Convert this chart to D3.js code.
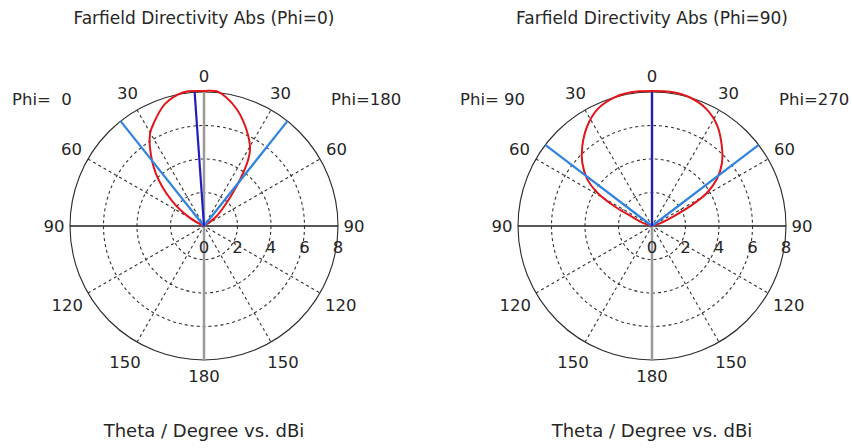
<!DOCTYPE html>
<html>
<head>
<meta charset="utf-8">
<script src="https://cdn.jsdelivr.net/npm/d3@7"></script>
<style>
  html, body { margin: 0; padding: 0; background: #fff; }
  svg { display: block; }
  text { font-family: "DejaVu Sans", Verdana, sans-serif; fill: #262626; }
</style>
</head>
<body>
<svg id="chart" width="852" height="448"></svg>
<script>
// ---------- data ----------
const radialTicks = [0, 2, 4, 6, 8];
const angleTicks = [0, 30, 60, 90, 120, 150, 180];
const titles = ["Farfield Directivity Abs (Phi=0)", "Farfield Directivity Abs (Phi=90)"];
const phiLeftLabels = ["Phi=  0", "Phi= 90"];
const phiRightLabels = ["Phi=180", "Phi=270"];
const axisTitle = "Theta / Degree vs. dBi";

// Phi=0 cut (negative theta = left half, "Phi= 0"; positive = right half, "Phi=180")
const phi0Theta = [-66, -60, -51.6, -42.5, -34.5, -30.2, -26.4, -17.7, -8.7, 0, 5.4, 10, 15.7, 20.5, 26.2, 31, 33.6, 36.4, 39.3, 44.3, 51.8, 58, 62];
const phi0Dir   = [0, 0.97, 2.47, 4.25, 5.7, 6.4, 6.8, 7.65, 8.08, 8.06, 8.08, 7.78, 7.24, 6.69, 5.99, 5.34, 4.78, 3.95, 3.08, 1.94, 0.97, 0.19, 0];
const phi0MainLobe = -4;
const phi0Width = [-38.5, 38.5];

// Phi=90 cut
const phi90Theta = [-78, -71.4, -64.9, -62.2, -58.7, -54.2, -47.8, -41.1, -32.9, -25.1, -16.5, -9, 0, 9, 16.5, 25, 33, 41, 48, 54, 59, 62.5, 65.5, 72, 78];
const phi90Dir   = [0, 0.5, 1.41, 2.56, 3.82, 4.76, 5.62, 6.33, 7.11, 7.69, 7.99, 8.08, 8.06, 8.08, 8.0, 7.7, 7.15, 6.35, 5.62, 4.8, 3.8, 2.6, 1.5, 0.5, 0];
const phi90MainLobe = 0;
const phi90Width = [-52.8, 52.8];

// ---------- layout ----------
const svg = d3.select("#chart");
const R = 134;
const cy = 226;
const panels = [
  {cx: 204, title: titles[0], left: phiLeftLabels[0], right: phiRightLabels[0],
   theta: phi0Theta, dir: phi0Dir, main: phi0MainLobe, width: phi0Width},
  {cx: 652, title: titles[1], left: phiLeftLabels[1], right: phiRightLabels[1],
   theta: phi90Theta, dir: phi90Dir, main: phi90MainLobe, width: phi90Width}
];

const rScale = d3.scaleLinear().domain([0, 8]).range([0, R]);
const aScale = d3.scaleLinear().domain([0, 180]).range([0, Math.PI]);

function labelDist(a) {
  if (a % 90 === 0) return R + 16;
  return a < 90 ? R + 19 : R + 24;
}

panels.forEach(p => {
  const g = svg.append("g").attr("transform", `translate(${p.cx},${cy})`);

  // dashed circles
  g.selectAll("circle.grid").data(radialTicks.filter(v => v > 0 && v < 8)).join("circle")
    .attr("r", d => rScale(d))
    .attr("fill", "none").attr("stroke", "#333").attr("stroke-width", 1.1)
    .attr("stroke-dasharray", "3,3");

  // dashed spokes
  const spokes = [30, 60, 120, 150];
  g.selectAll("line.spoke").data(spokes).join("line")
    .attr("x1", d => -R * Math.sin(aScale(d))).attr("y1", d => R * Math.cos(aScale(d)))
    .attr("x2", d => R * Math.sin(aScale(d))).attr("y2", d => -R * Math.cos(aScale(d)))
    .attr("stroke", "#333").attr("stroke-width", 1.1).attr("stroke-dasharray", "3,3");

  // outer circle
  g.append("circle").attr("r", rScale(8)).attr("fill", "none")
    .attr("stroke", "#2a2a2a").attr("stroke-width", 1.1);

  // axes
  g.append("line").attr("x1", 0).attr("x2", 0).attr("y1", -R).attr("y2", R)
    .attr("stroke", "#9a9a9a").attr("stroke-width", 2.5);
  g.append("line").attr("x1", -R).attr("x2", R).attr("y1", 0).attr("y2", 0)
    .attr("stroke", "#222").attr("stroke-width", 1.3);

  // red directivity curve
  const pts = p.theta.map((t, i) => ({t: t, v: p.dir[i]}));
  const line = d3.lineRadial()
    .angle(d => aScale(d.t))
    .radius(d => rScale(Math.max(0, d.v)))
    .curve(d3.curveCatmullRom.alpha(0.5));
  g.append("path").attr("d", line(pts)).attr("fill", "none")
    .attr("stroke", "#e0161c").attr("stroke-width", 2).attr("stroke-linejoin", "round");

  // angular width (light blue) and main lobe (dark blue)
  g.selectAll("line.width").data(p.width).join("line")
    .attr("x1", 0).attr("y1", 0)
    .attr("x2", d => rScale(8) * Math.sin(aScale(d)))
    .attr("y2", d => -rScale(8) * Math.cos(aScale(d)))
    .attr("stroke", "#2f84e0").attr("stroke-width", 2.2);
  g.append("line").attr("x1", 0).attr("y1", 0)
    .attr("x2", rScale(8) * Math.sin(aScale(p.main)))
    .attr("y2", -rScale(8) * Math.cos(aScale(p.main)))
    .attr("stroke", "#1e1ec4").attr("stroke-width", 2.2);

  // angle labels
  const angLabels = [];
  angleTicks.forEach(a => {
    angLabels.push({a: a, s: 1});
    if (a !== 0 && a !== 180) angLabels.push({a: a, s: -1});
  });
  g.selectAll("text.ang").data(angLabels).join("text")
    .attr("x", d => d.s * labelDist(d.a) * Math.sin(aScale(d.a)))
    .attr("y", d => -labelDist(d.a) * Math.cos(aScale(d.a)))
    .attr("text-anchor", "middle").attr("dominant-baseline", "central")
    .style("font-size", "16.5px")
    .text(d => d.a);

  // radial labels
  g.selectAll("text.rad").data(radialTicks).join("text")
    .attr("x", d => rScale(d)).attr("y", 21)
    .attr("text-anchor", "middle").attr("dominant-baseline", "central")
    .style("font-size", "16.5px")
    .text(d => d);

  // phi labels
  g.append("text").attr("x", -192).attr("y", -127)
    .attr("text-anchor", "start").attr("dominant-baseline", "central")
    .style("font-size", "16.5px").style("white-space", "pre")
    .text(p.left);
  g.append("text").attr("x", 127).attr("y", -127)
    .attr("text-anchor", "start").attr("dominant-baseline", "central")
    .style("font-size", "16.5px").style("white-space", "pre")
    .text(p.right);

  // titles
  svg.append("text").attr("x", p.cx).attr("y", 18)
    .attr("text-anchor", "middle").attr("dominant-baseline", "central")
    .style("font-size", "17px").text(p.title);
  svg.append("text").attr("x", p.cx).attr("y", 430)
    .attr("text-anchor", "middle").attr("dominant-baseline", "central")
    .style("font-size", "18px").text(axisTitle);
});
</script>
</body>
</html>
